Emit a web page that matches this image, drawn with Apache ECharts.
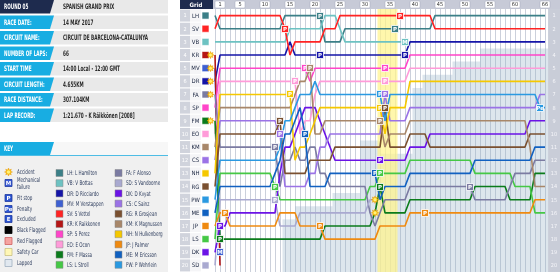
<!DOCTYPE html>
<html><head><meta charset="utf-8">
<script src="https://cdn.jsdelivr.net/npm/echarts/dist/echarts.min.js"></script>
<style>html,body{margin:0;padding:0;background:#fff}#c{width:560px;height:272px}</style>
</head><body><div id="c"></div>
<script>
// ---------- DATA ----------
const drivers = ['LH','VB','DR','MV','SV','KR','SP','EO','FM','LS','FA','SD','DK','CS','RG','KM','NH','JP','ME','PW'];
const driverNames = ['L Hamilton','V Bottas','D Ricciardo','M Verstappen','S Vettel','K Raikkonen','S Perez','E Ocon','F Massa','L Stroll','F Alonso','S Vandoorne','D Kvyat','C Sainz','R Grosjean','K Magnussen','N Hulkenberg','J Palmer','M Ericsson','P Wehrlein'];
const driverColors = {LH:'#3b7f87',VB:'#6dc2c2',DR:'#1515a8',MV:'#3e60d2',SV:'#ff2323',KR:'#b51616',SP:'#ff45c9',EO:'#ff9bd9',FM:'#0b7b1b',LS:'#45c845',FA:'#7b7ba2',SD:'#a9a9d0',DK:'#6b13e6',CS:'#9b73e6',RG:'#7a5030',KM:'#a8876a',NH:'#f5c800',JP:'#ef8a10',ME:'#1161c1',PW:'#2a99e1'};
const gridOrder = ['LH','SV','VB','KR','MV','DR','FA','SP','FM','EO','KM','CS','NH','RG','PW','ME','JP','LS','DK','SD'];
const lapTicks = [1,5,10,15,20,25,30,35,40,45,50,55,60,66];
const infoLabels = ['ROUND 05','RACE DATE:','CIRCUIT NAME:','NUMBER OF LAPS:','START TIME','CIRCUIT LENGTH:','RACE DISTANCE:','LAP RECORD:'];
const infoValues = ['SPANISH GRAND PRIX','14 MAY 2017','CIRCUIT DE BARCELONA-CATALUNYA','66','14:00 Local - 12:00 GMT','4.655KM','307.104KM','1:21.670 - K Räikkönen [2008]'];
const keyItems = ['Accident','Mechanical|failure','Pit stop','Penalty','Excluded','Black Flagged','Red Flagged','Safety Car','Lapped'];

// positions by lap (index = lap, 0 = grid)
const posSV = [2, 1,1,1,1,1,1,1,1,1,1, 1,1,1,2,4,3,3,3,3,3, 3,2,2,2,1,1,1,1,1,1, 1,1,1,1,1,1,1,1,1,1, 1,1,1,2,2,2,2,2,2,2, 2,2,2,2,2,2,2,2,2,2, 2,2,2,2,2,2];
const posLH = [1, 2,2,2,2,2,2,2,2,2,2, 2,2,2,1,1,1,1,1,1,1, 1,3,3,3,3,2,2,2,2,2, 2,2,2,2,2,2,2,2,2,2, 2,2,2,1,1,1,1,1,1,1, 1,1,1,1,1,1,1,1,1,1, 1,1,1,1,1,1];
const posVB = [3, 3,3,3,3,3,3,3,3,3,3, 3,3,3,3,2,2,2,2,2,2, 2,1,1,1,2,3,3,3,3,3, 3,3,3,3,3,3,3,3];
const posDR = [6, 4,4,4,4,4,4,4,4,4,4, 4,4,4,4,3,4,4,4,4,4, 4,4,4,4,4,4,4,4,4,4, 4,4,4,4,4,4,4,4,3,3, 3,3,3,3,3,3,3,3,3,3, 3,3,3,3,3,3,3,3,3,3, 3,3,3,3,3,3];
const posKR = [4, 20];
const posMV = [5, 19];
const posSP = [8, 5,5,5,5,5,5,5,5,5,5, 5,5,5,5,5,5,5,5,6,5, 5,5,5,5,5,5,5,5,5,5, 5,5,5,5,5,5,5,5,4,4, 4,4,4,4,4,4,4,4,4,4, 4,4,4,4,4,4,4,4,4,4, 4,4,4,4,4,4];
const posEO = [10, 6,6,6,6,6,6,6,6,6,6, 6,6,6,6,6,6,10,9,9,7, 6,6,6,6,6,6,6,6,6,6, 6,6,6,6,6,6,6,6,5,5, 5,5,5,5,5,5,5,5,5,5, 5,5,5,5,5,5,5,5,5,5, 5,5,5,5,5,5];
const posNH = [13, 7,7,7,7,7,7,7,7,7,7, 7,7,7,7,7,12,11,11,10,9, 8,8,8,8,8,8,8,8,8,8, 8,8,8,10,8,8,8,8,6,6, 6,6,6,6,6,6,6,6,6,6, 6,6,6,6,6,6,6,6,6,6, 6,6,6,6,6,6];
const posKM = [11, 8,8,8,8,8,8,8,8,8,8, 8,8,8,8,8,7,6,6,5,10, 10,9,9,9,9,9,9,9,9,9, 9,9,9,11,10,10,10,10,9,9, 9,9,9,9,9,9,9,9,9,9, 9,9,9,9,9,9,9,9,9,9, 9,9,11,14,14,14];
const posCS = [12, 9,9,9,9,9,9,9,9,9,9, 9,9,10,14,14,14,14,14,13,13, 11,11,10,10,10,10,10,10,10,10, 10,10,10,7,9,9,9,9,8,8, 8,8,8,8,8,8,8,8,8,8, 8,8,8,8,8,8,8,8,8,8, 8,8,8,8,7,7];
const posRG = [14, 10,10,10,10,10,10,10,10,10,10, 10,10,9,13,13,13,13,13,12,12, 12,12,12,11,11,11,11,11,11,11, 11,11,11,8,11,11,11,11,10,10, 10,10,11,11,11,11,11,11,11,11, 11,11,11,11,11,11,11,11,11,11, 11,11,10,10,10,10];
const posDK = [19, 17,17,16,16,16,16,16,16,16,16, 16,16,13,11,11,10,9,8,8,8, 9,10,11,12,12,12,12,12,12,12, 12,12,12,12,12,12,12,12,11,11, 11,11,10,10,10,10,10,10,10,10, 10,10,10,10,10,10,10,10,10,10, 10,10,9,9,9,9];
const posFA = [7, 11,11,11,11,11,11,11,11,11,11, 11,11,14,12,12,11,12,12,11,11, 13,13,14,14,14,14,14,14,14,14, 16,17,16,15,15,15,15,15,14,14, 14,14,14,14,14,14,14,14,14,14, 14,15,15,15,15,15,15,15,14,13, 13,13,13,12,12,12];
const posPW = [15, 12,12,12,12,12,12,12,12,12,12, 12,12,11,9,9,8,7,7,7,6, 7,7,7,7,7,7,7,7,7,7, 7,7,7,9,7,7,7,7,7,7, 7,7,7,7,7,7,7,7,7,7, 7,7,7,7,7,7,7,7,7,7, 7,7,7,7,8,8];
const posLS = [18, 13,13,13,13,13,13,13,13,13,13, 13,14,15,15,15,15,15,15,15,15, 15,15,15,15,15,15,15,15,15,15, 14,14,13,13,13,13,13,13,12,12, 12,12,12,12,12,12,12,12,12,12, 12,13,13,13,13,13,13,13,13,14, 14,14,14,16,16,16];
const posME = [16, 14,14,14,14,14,14,14,14,14,14, 14,13,12,10,10,9,8,10,14,14, 14,14,13,13,13,13,13,13,13,13, 13,13,15,14,14,14,14,14,13,13, 13,13,13,13,13,13,13,13,13,13, 13,12,12,12,12,12,12,12,12,12, 12,12,12,11,11,11];
const posSD = [20, 15,15,15,15,15,15,15,15,15,15, 15,15,17,17,17,17,16,16,16,16, 16,16,16,16,16,16,16,16,16,16, 15,15];
const posJP = [17, 16,16,17,17,17,17,17,17,17,17, 17,17,16,16,16,16,17,17,17,17, 17,18,18,18,18,18,18,18,18,18, 18,18,17,17,17,17,17,17,16,16, 16,16,16,16,16,16,16,16,16,16, 16,16,16,16,16,16,16,16,16,16, 16,16,16,15,15,15];
const posFM = [9, 18,18,18,18,18,18,18,18,18,18, 18,18,18,18,18,18,18,18,18,18, 18,17,17,17,17,17,17,17,17,17, 17,16,14,16,16,16,16,16,15,15, 15,15,15,15,15,15,15,15,15,15, 15,14,14,14,14,14,14,14,15,15, 15,15,15,13,13,13];

const pitStops = [['DK',1],['FM',1],['JP',2],['FA',12],['LS',12],['SD',12],['RG',13],['CS',13],['SV',14],['NH',15],['EO',16],['SP',18],['ME',18],['KM',19],['LH',21],['DR',21],['JP',21],['ME',32],['PW',33],['NH',33],['KM',33],['DK',33],['LS',33],['FM',33],['SP',34],['EO',34],['CS',34],['RG',34],['LH',36],['SV',37],['DR',38],['JP',42],['FA',51]];
const mechFailures = [['MV',1],['VB',38]];
const accidents = [['SD',32],['FM',32]];
const penalties = [['PW',65]];
const gridAccidents = ['KR','MV','DR','FA','FM'];
// lapped shading: [fromLap, toLap, first lapped row]
const lappedAreas = [[13.5,16,17],[16,23.5,16],[23.5,29,15],[29,33,11],[33,39.5,12],[39.5,41.5,7],[41.5,47.5,6],[47.5,53,5],[53,66.6,4]];
const safetyCar = [32.5, 36.5];

// ---------- CHART ----------
const posByDriver = {LH:posLH,VB:posVB,DR:posDR,MV:posMV,SV:posSV,KR:posKR,SP:posSP,EO:posEO,FM:posFM,LS:posLS,FA:posFA,SD:posSD,DK:posDK,CS:posCS,RG:posRG,KM:posKM,NH:posNH,JP:posJP,ME:posME,PW:posPW};
const G = {left:215, top:9, width:333, height:263};
const LAPMAX = 66.6;
const yC = p => G.top + (p - 0.5) * G.height / 20;
const xC = l => G.left + l * G.width / LAPMAX;
const FC = '"DejaVu Sans Condensed", "DejaVu Sans", sans-serif';

function sun(cx, cy, r){
  const pts = [];
  for (let i = 0; i < 16; i++) { const a = i * Math.PI / 8; const rr = i % 2 ? r * 0.55 : r; pts.push([cx + rr * Math.cos(a), cy + rr * Math.sin(a)]); }
  return [{type:'polygon', shape:{points:pts}, style:{fill:'#ffc20a', stroke:'#e09000', lineWidth:0.4}},
          {type:'circle', shape:{cx:cx, cy:cy, r:r*0.42}, style:{fill:'#fff27a'}}];
}
function iconBox(x, y, fill, txt, stroke){
  const out = [{type:'rect', shape:{x:x, y:y, width:7, height:7}, style:{fill:fill, stroke:stroke || '#ffffff', lineWidth:0.8}}];
  if (txt) out.push({type:'text', x:x+3.6, y:y+4, style:{text:txt, fill:'#fff', font:'bold 5.5px "DejaVu Sans"', align:'center', verticalAlign:'middle'}});
  return out;
}

const markerList = [];
pitStops.forEach(([d,l]) => markerList.push({d:d, l:l, p:posByDriver[d][l], k:'P'}));
mechFailures.forEach(([d,l]) => markerList.push({d:d, l:l, p:posByDriver[d][l], k:'M'}));
penalties.forEach(([d,l]) => markerList.push({d:d, l:l, p:posByDriver[d][l], k:'Pe'}));
accidents.forEach(([d,l]) => markerList.push({d:d, l:l, p:posByDriver[d][l], k:'A'}));

const series = [];
series.push({type:'line', data:[[0,20.5]], symbol:'none', lineStyle:{opacity:0}, silent:true, z:1,
  markArea:{silent:true, data: lappedAreas.map(a => [{xAxis:a[0], yAxis:a[2]-0.5, itemStyle:{color:'rgba(150,178,200,0.32)'}}, {xAxis:a[1], yAxis:20.5}])
    .concat([[{xAxis:safetyCar[0], yAxis:0.5, itemStyle:{color:'rgba(255,244,140,0.72)'}}, {xAxis:safetyCar[1], yAxis:20.5}]])}});
drivers.forEach(d => {
  series.push({type:'line', name:d, data: posByDriver[d].map((p,i) => [i,p]), symbol:'none', showSymbol:false,
    lineStyle:{color:driverColors[d], width:1.6}, itemStyle:{color:driverColors[d]}, silent:true, z:3});
});
series.push({type:'custom', data: markerList.map(m => [m.l, m.p]), z:10, silent:true,
  renderItem: function(params, api){
    const m = markerList[params.dataIndex];
    const pt = api.coord([m.l, m.p]);
    if (m.k === 'A') return {type:'group', children: sun(pt[0], pt[1], 3.8)};
    return {type:'group', children: iconBox(Math.round(pt[0]) - 3.5, Math.round(pt[1]) - 3.5, driverColors[m.d], m.k)};
  }});

// ---------- GRAPHIC (panels) ----------
const g = [];
infoLabels.forEach((lab, i) => {
  const t = i * 15.5, h = 13.5;
  g.push({type:'rect', shape:{x:50, y:t, width:118, height:h}, style:{fill:'#e9e9e9'}});
  g.push({type:'polygon', shape:{points:[[0,t],[54,t],[50,t+h],[0,t+h]]}, style:{fill: i === 0 ? '#1e2b4e' : '#18ade2'}});
  g.push({type:'text', x:4, y:t+h/2+0.5, scaleX:0.62, style:{text:lab, fill:'#ffffff', font:'bold 7.5px ' + FC, verticalAlign:'middle'}});
  g.push({type:'text', x:63, y:t+h/2+0.5, scaleX:0.62, style:{text:infoValues[i], fill:'#2a2a2a', font:'bold 7.5px ' + FC, verticalAlign:'middle'}});
});
// key
g.push({type:'rect', shape:{x:0, y:142, width:168, height:130}, style:{fill:'#f0f0f0'}});
g.push({type:'rect', shape:{x:0, y:142, width:168, height:13}, style:{fill:'#f7f7f7'}});
g.push({type:'polygon', shape:{points:[[0,142],[54,142],[50,155],[0,155]]}, style:{fill:'#18ade2'}});
g.push({type:'rect', shape:{x:0, y:155, width:168, height:0.8}, style:{fill:'#18ade2'}});
g.push({type:'text', x:4, y:149, scaleX:0.62, style:{text:'KEY', fill:'#fff', font:'bold 7.5px ' + FC, verticalAlign:'middle'}});
const keyY = [172,183,198,209,219,230,241,252,263];
keyItems.forEach((k, i) => {
  const y = keyY[i];
  let icon;
  if (i === 0) icon = sun(8.5, y, 4);
  else if (i === 1) icon = iconBox(5, y-3.5, '#3b5bd6', 'M', '#203aa0');
  else if (i === 2) icon = iconBox(5, y-3.5, '#2c54d0', 'P', '#203aa0');
  else if (i === 3) icon = iconBox(5, y-3.5, '#2c54d0', 'Pe', '#203aa0');
  else if (i === 4) icon = iconBox(5, y-3.5, '#2c54d0', 'E', '#203aa0');
  else if (i === 5) icon = iconBox(5, y-3.5, '#000000', '', '#000');
  else if (i === 6) icon = iconBox(5, y-3.5, '#f5a3a0', '', '#d06060');
  else if (i === 7) icon = iconBox(5, y-3.5, '#fff7b5', '', '#c9c080');
  else icon = iconBox(5, y-3.5, '#e1e8ef', '', '#9fb0c0');
  icon.forEach(e => g.push(e));
  const parts = k.split('|');
  parts.forEach((s, j) => g.push({type:'text', x:17, y: y + (parts.length > 1 ? (j ? 3.5 : -3.5) : 0) + 0.5, scaleX:0.7,
    style:{text:s, fill:'#2e3d5e', font:'6.5px ' + FC, verticalAlign:'middle'}}));
});
drivers.forEach((d, i) => {
  const col = Math.floor(i / 10), r = i % 10;
  const y = 173 + r * 10.2;
  const ix = col === 0 ? 56 : 115;
  g.push({type:'rect', shape:{x:ix, y:y-3.5, width:7, height:7}, style:{fill:driverColors[d], stroke:'#8a8a8a', lineWidth:0.5}});
  g.push({type:'text', x:ix+11, y:y+0.5, scaleX:0.7, style:{text:d + ': ' + driverNames[i], fill:'#2e3d5e', font:'6.5px ' + FC, verticalAlign:'middle'}});
});
// grid column
g.push({type:'rect', shape:{x:180, y:0, width:33, height:9}, style:{fill:'#1e2b4e'}});
g.push({type:'text', x:196, y:5, style:{text:'Grid', fill:'#fff', font:'bold 6px ' + FC, align:'center', verticalAlign:'middle'}});
g.push({type:'rect', shape:{x:213, y:0, width:347, height:9}, style:{fill:'#c7cad7'}});
lapTicks.forEach(t => {
  const x = xC(t);
  g.push({type:'rect', shape:{x:x-5, y:1, width:10, height:7, r:1}, style:{fill:'#ffffff', stroke:'#a0a6b8', lineWidth:0.5}});
  g.push({type:'text', x:x, y:4.8, style:{text:String(t), fill:'#333', font:'5.5px ' + FC, align:'center', verticalAlign:'middle'}});
});
g.push({type:'rect', shape:{x:548, y:9, width:12, height:263}, style:{fill:'#c9cdd8'}});
for (let p = 1; p <= 20; p++) {
  const y = yC(p);
  g.push({type:'text', x:554, y:y+0.5, style:{text:String(p), fill:'#f6f6fa', font:'5.5px ' + FC, align:'center', verticalAlign:'middle'}});
}
gridOrder.forEach((d, i) => {
  const p = i + 1, y = yC(p);
  g.push({type:'rect', shape:{x:180, y:y-6, width:10, height:12}, style:{fill:'#d0d3dc'}});
  g.push({type:'text', x:185, y:y+0.5, style:{text:String(p), fill:'#ffffff', font:'5.5px ' + FC, align:'center', verticalAlign:'middle'}});
  g.push({type:'rect', shape:{x:190, y:y-6, width:11, height:12}, style:{fill:'#f5f5f7'}});
  g.push({type:'text', x:195.5, y:y+0.5, style:{text:d, fill:'#1a2540', font:'6px ' + FC, align:'center', verticalAlign:'middle'}});
  g.push({type:'rect', shape:{x:202, y:y-3.5, width:7, height:7}, style:{fill:driverColors[d], stroke:'#ffffff', lineWidth:0.6}});
  if (gridAccidents.indexOf(d) >= 0) sun(210.5, y, 3.6).forEach(e => g.push(e));
});

const chart = echarts.init(document.getElementById('c'), null, {renderer:'canvas', width:560, height:272});
chart.setOption({
  animation:false,
  backgroundColor:'#ffffff',
  grid:{left:G.left, top:G.top, width:G.width, height:G.height, containLabel:false, outerBoundsMode:'none'},
  xAxis:{type:'value', min:0, max:LAPMAX, interval:1, axisLabel:{show:false}, axisLine:{show:false}, axisTick:{show:false},
    splitLine:{show:true, lineStyle:{color:'#cbd0db', width:1}}},
  yAxis:{type:'value', inverse:true, min:0.5, max:20.5, axisLabel:{show:false}, axisLine:{show:false}, axisTick:{show:false}, splitLine:{show:false}},
  series: series,
  graphic: g
});
</script></body></html>
